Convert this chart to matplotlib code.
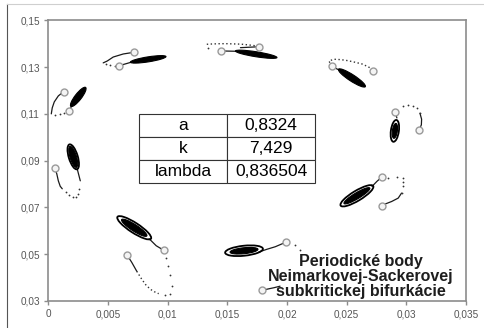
import matplotlib
matplotlib.use('Agg')
import matplotlib.pyplot as plt
from matplotlib.patches import Ellipse
from matplotlib.transforms import ScaledTranslation
from matplotlib.lines import Line2D
from matplotlib.ticker import FuncFormatter

plt.rcParams['font.family'] = ['Liberation Sans', 'DejaVu Sans']

# ---------------- data ----------------
x_ticks = [0, 0.005, 0.01, 0.015, 0.02, 0.025, 0.03, 0.035]
y_ticks = [0.03, 0.05, 0.07, 0.09, 0.11, 0.13, 0.15]

# starting points (gray circles)
circle_x = [0.00714, 0.00594, 0.01769, 0.01445, 0.02373, 0.02720, 0.00128, 0.00172,
            0.02906, 0.03105, 0.00054, 0.02798, 0.02796, 0.00967, 0.00659, 0.01995, 0.01791]
circle_y = [0.1363, 0.1306, 0.1387, 0.1369, 0.13036, 0.12827, 0.11951, 0.11114,
            0.11072, 0.10294, 0.08693, 0.08309, 0.07062, 0.0517, 0.04978, 0.05521, 0.03454]

# solid trajectory pieces
solid_x = [
    [0.00714, 0.00628, 0.00544, 0.00494, 0.00460],
    [0.00594, 0.00703],
    [0.01769, 0.01691, 0.01610],
    [0.01445, 0.01572],
    [0.02373, 0.02427],
    [0.00128, 0.00084, 0.00050, 0.00033, 0.00025],
    [0.00172, 0.00201],
    [0.03114, 0.03128, 0.03126, 0.03105],
    [0.02906, 0.02921],
    [0.00054, 0.00071, 0.00084, 0.00100, 0.00117],
    [0.00240, 0.00268],
    [0.02960, 0.02932, 0.02877, 0.02821, 0.02796],
    [0.02712, 0.02754, 0.02798],
    [0.00659, 0.00700, 0.00741],
    [0.00845, 0.00904, 0.00967],
    [0.01764, 0.01833, 0.01902, 0.01951, 0.01995],
    [0.01791, 0.01841, 0.01892, 0.01942],
]
solid_y = [
    [0.1363, 0.1356, 0.1343, 0.1326, 0.1318],
    [0.1306, 0.1322],
    [0.1387, 0.13851, 0.1383],
    [0.1369, 0.13676],
    [0.13036, 0.1290],
    [0.11951, 0.11768, 0.11511, 0.11256, 0.1100],
    [0.11114, 0.11383],
    [0.11029, 0.10773, 0.10530, 0.10294],
    [0.11072, 0.10828],
    [0.08693, 0.08437, 0.08138, 0.07903, 0.07797],
    [0.08693, 0.08138],
    [0.07613, 0.07399, 0.07254, 0.07143, 0.07062],
    [0.07895, 0.08117, 0.08309],
    [0.04978, 0.04645, 0.04274],
    [0.05662, 0.05363, 0.0517],
    [0.05094, 0.05213, 0.0532, 0.05427, 0.05521],
    [0.03454, 0.03514, 0.03569, 0.03633],
]

# densely dotted trajectory pieces
dense_x = [
    [0.01328, 0.01381, 0.01440, 0.01498, 0.01557, 0.01615, 0.01674, 0.01724, 0.01769],
    [0.02373, 0.02352, 0.02394, 0.02452, 0.02510, 0.02570, 0.02628, 0.02678, 0.02712, 0.02720],
    [0.00741, 0.00783, 0.00816, 0.00854, 0.00887, 0.00925],
]
dense_y = [
    [0.13975, 0.1399, 0.1400, 0.1400, 0.1399, 0.1398, 0.1395, 0.1392, 0.1387],
    [0.13036, 0.13262, 0.13335, 0.13318, 0.13275, 0.13207, 0.13134, 0.13019, 0.1292, 0.12827],
    [0.04274, 0.03932, 0.03697, 0.03505, 0.0340, 0.03313],
]

# sparse iterate points
dot_x = [0.00485, 0.00519, 0.00561, 0.01340,
         0.00059, 0.00096, 0.00134,
         0.02969, 0.03016, 0.03058, 0.03091, 0.03114,
         0.00146, 0.00176, 0.00205, 0.00230, 0.00247, 0.00259,
         0.02848, 0.02919, 0.02969, 0.02974, 0.02969, 0.02960,
         0.00977, 0.01020, 0.01035, 0.01020, 0.01007, 0.00985,
         0.02070, 0.02112]
dot_y = [0.1313, 0.1308, 0.1306, 0.1383,
         0.10935, 0.10978, 0.11042,
         0.11341, 0.11383, 0.11353, 0.11242, 0.11029,
         0.07668, 0.0754, 0.07433, 0.07433, 0.07583, 0.07797,
         0.08253, 0.08322, 0.08279, 0.08108, 0.07895, 0.07613,
         0.03236, 0.0330, 0.03625, 0.04124, 0.04479, 0.04837,
         0.05375, 0.05162]

# attracting spiral centres
blob_x = [0.00837, 0.01742, 0.02544, 0.00251, 0.02904, 0.00209, 0.02586, 0.00720, 0.01640]
blob_y = [0.1333, 0.13548, 0.12536, 0.11725, 0.10273, 0.09163, 0.07498, 0.06131, 0.05149]

table_labels = ['a', 'k', 'lambda']
table_values = ['0,8324', '7,429', '0,836504']
note_lines = ['Periodické body', 'Neimarkovej-Sackerovej', 'subkritickej bifurkácie']

# ---------------- style ----------------
# blob shapes in pixels: core length, core thickness, angle, ring length, ring thickness
blob_core_len = [36, 42, 32, 24, 15, 22, 30, 30, 28]
blob_core_th = [5, 5, 6.5, 6.5, 5, 6.5, 6, 6.5, 6]
blob_ang = [9, -9, -33, 52, 82, -73, 31, -33, 6]
blob_ring_len = [0, 0, 0, 0, 22, 26, 38, 40, 38]
blob_ring_th = [0, 0, 0, 0, 8, 9, 10, 10, 10]

W, H, DPI = 484, 328, 100
fig = plt.figure(figsize=(W / DPI, H / DPI), dpi=DPI)
ax = fig.add_axes([48.3 / W, 1 - 301 / H, (466 - 48.3) / W, (301 - 20.3) / H])
ax.set_xlim(0, 0.035)
ax.set_ylim(0.03, 0.15)
ax.set_autoscale_on(False)

for xs, ys in zip(solid_x, solid_y):
    ax.plot(xs, ys, color='#1a1a1a', lw=0.9, solid_capstyle='round', zorder=3)
for xs, ys in zip(dense_x, dense_y):
    ax.plot(xs, ys, color='#333333', lw=1.0, linestyle=(0, (1, 1.8)), zorder=3)
ax.plot(dot_x, dot_y, linestyle='none', marker='o', ms=1.3, color='#333333',
        mew=0, zorder=3)

for i in range(len(blob_x)):
    tr = fig.dpi_scale_trans + ScaledTranslation(blob_x[i], blob_y[i], ax.transData)
    if blob_ring_len[i] > 0:
        ax.add_patch(Ellipse((0, 0), blob_ring_len[i] / DPI, blob_ring_th[i] / DPI,
                             angle=blob_ang[i], transform=tr, fc='none', ec='black',
                             lw=1.3, zorder=4))
    ax.add_patch(Ellipse((0, 0), blob_core_len[i] / DPI, blob_core_th[i] / DPI,
                         angle=blob_ang[i], transform=tr, fc='black', ec='black',
                         lw=0.8, zorder=4))

ax.plot(circle_x, circle_y, linestyle='none', marker='o', ms=5, mfc='#f4f4f4',
        mec='#9a9a9a', mew=1.0, zorder=5)

ax.set_xticks(x_ticks)
ax.set_yticks(y_ticks)
fmt = FuncFormatter(lambda v, p: ('%g' % round(v, 3)).replace('.', ','))
ax.xaxis.set_major_formatter(fmt)
ax.yaxis.set_major_formatter(fmt)
ax.tick_params(axis='both', direction='out', length=3, width=1, color='#8c8c8c',
               labelsize=7.2, labelcolor='#555555', pad=3)
for s in ax.spines.values():
    s.set_color('#8c8c8c')
    s.set_linewidth(1.2)

# parameter table
tb = ax.table(cellText=[[l, v] for l, v in zip(table_labels, table_values)],
              cellLoc='center', colWidths=[0.5, 0.5],
              bbox=[(139 - 48.3) / 417.7, (301 - 183) / 280.7, (315 - 139) / 417.7, 69 / 280.7])
tb.auto_set_font_size(False)
tb.set_fontsize(12.5)
tb.set_zorder(6)
for (r, c), cell in tb.get_celld().items():
    cell.set_edgecolor('#333333')
    cell.set_linewidth(0.8)
    cell.set_facecolor('white')

# annotation
for i, line in enumerate(note_lines):
    fig.text(361 / W, 1 - (261.5 + 15.2 * i) / H, line, ha='center', va='center',
             fontsize=11.5, fontweight='bold', color='#1e1e1e', zorder=7)

# chart-area border
fig.add_artist(Line2D([7 / W, 7 / W], [0, 1 - 4 / H], transform=fig.transFigure,
                      color='#555555', lw=0.8))
fig.add_artist(Line2D([7 / W, 1], [1 - 4 / H, 1 - 4 / H], transform=fig.transFigure,
                      color='#cfcfcf', lw=0.8))

fig.savefig('out.png', dpi=DPI)
